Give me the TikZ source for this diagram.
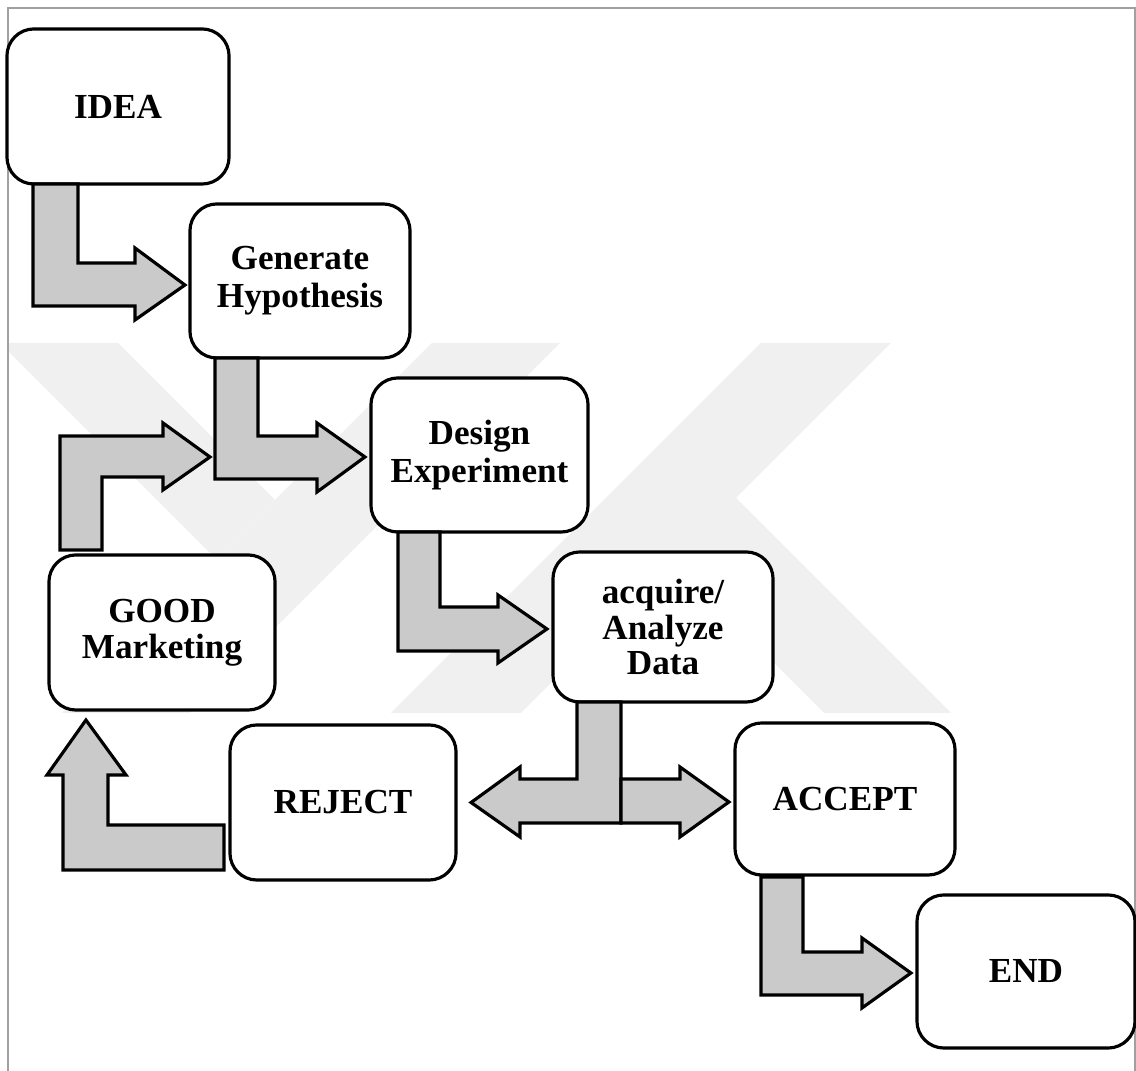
\documentclass[tikz,border=0pt]{standalone}
\usepackage{fontspec}
\setmainfont{Liberation Serif}
\usetikzlibrary{calc}
\definecolor{arrowgray}{RGB}{202,202,202}
\definecolor{framegray}{RGB}{160,160,160}
\definecolor{wmgray}{RGB}{240,240,240}
\begin{document}
\begin{tikzpicture}[x=0.01cm,y=-0.01cm,
  box/.style={draw, line width=0.9pt, rounded corners=0.27cm, fill=white, align=center,
    inner sep=0pt, outer sep=0pt, minimum width=2.2cm, minimum height=1.54cm,
    font=\fontsize{10}{10.9}\selectfont\bfseries},
  blk/.style={draw, line width=0.9pt, fill=arrowgray, line join=miter},
  wm/.style={fill=wmgray}]
\useasboundingbox (0,0) rectangle (1136,1071);
% watermark
\begin{scope}
  \clip (8,343) rectangle (1135,713);
  \fill[wm] (0,343) -- (118,343) -- (275,500) -- (216,559) -- cycle;
  \fill[wm] (432,343) -- (560,343) -- (190,713) -- (62,713) -- cycle;
  \fill[wm] (761,343) -- (891,343) -- (521,713) -- (391,713) -- cycle;
  \fill[wm] (735,497) -- (951,713) -- (824,713) -- (672,561) -- cycle;
\end{scope}
% frame
\draw[framegray, line width=0.55pt] (8,1071) -- (8,8) -- (1135,8) -- (1135,1071);
% nodes
\node[box, minimum width=2.22cm, minimum height=1.55cm] (idea) at (118,106.5) {IDEA};
\node[box] (gen) at (300,281) {Generate\\Hypothesis};
\node[box, minimum width=2.17cm] (design) at (479.5,455) {Design\\Experiment};
\node[box, minimum height=1.5cm, font=\fontsize{10}{10.1}\selectfont\bfseries] (acq) at (663,627) {acquire/\\Analyze\\Data};
\node[box, minimum width=2.26cm, minimum height=1.55cm, font=\fontsize{10}{10.1}\selectfont\bfseries] (good) at (162,632.5) {GOOD\\Marketing};
\node[box, minimum width=2.26cm, minimum height=1.55cm] (reject) at (343,802.5) {REJECT};
\node[box, minimum height=1.52cm] (accept) at (845,799) {ACCEPT};
\node[box, minimum width=2.18cm, minimum height=1.53cm] (endn) at (1026,971.5) {END};
\coordinate (merge) at (210,457);
% connectors
\draw[blk] ($(idea.south west)+(26,0)$) -- ($(idea.south west)+(71,0)$) -- (78,263) -- (135,263) -- (135,248)
  -- ($(gen.west)+(-5,4)$) -- (135,320) -- (135,306) -- (33,306) -- cycle;
\draw[blk] ($(gen.south west)+(25,0)$) -- ($(gen.south west)+(68,0)$) -- (258,436) -- (317,436) -- (317,423)
  -- ($(design.west)+(-6,2)$) -- (317,492) -- (317,479) -- (215,479) -- cycle;
\draw[blk] ($(good.north west)+(11,-5)$) -- (60,436) -- (163,436) -- (163,423) -- (merge)
  -- (163,490) -- (163,477) -- (102,477) -- ($(good.north west)+(53,-5)$) -- cycle;
\draw[blk] ($(design.south west)+(27,0)$) -- ($(design.south west)+(69,0)$) -- (440,607) -- (498,607) -- (498,595)
  -- ($(acq.west)+(-6,2)$) -- (498,663) -- (498,651) -- (398,651) -- cycle;
\draw[blk] ($(acq.south west)+(24,0)$) -- ($(acq.south west)+(68,0)$) -- (621,823) -- (520,823) -- (520,837)
  -- ($(reject.east)+(15,0)$) -- (520,767) -- (520,779) -- (577,779) -- cycle;
\draw[blk] (621,779) -- (680,779) -- (680,767) -- ($(accept.west)+(-6,3)$) -- (680,837) -- (680,823) -- (621,823) -- cycle;
\draw[blk] ($(reject.west)+(-6,22.5)$) -- ($(reject.west)+(-6,67.5)$) -- (63,870) -- (63,775) -- (47,775)
  -- ($(good.south west)+(37,10)$) -- (126,775) -- (108,775) -- (108,825) -- cycle;
\draw[blk] ($(accept.south west)+(26,2)$) -- ($(accept.south west)+(68,2)$) -- (803,952) -- (862,952) -- (862,938)
  -- ($(endn.west)+(-6,1.5)$) -- (862,1008) -- (862,995) -- (761,995) -- cycle;
\end{tikzpicture}
\end{document}
